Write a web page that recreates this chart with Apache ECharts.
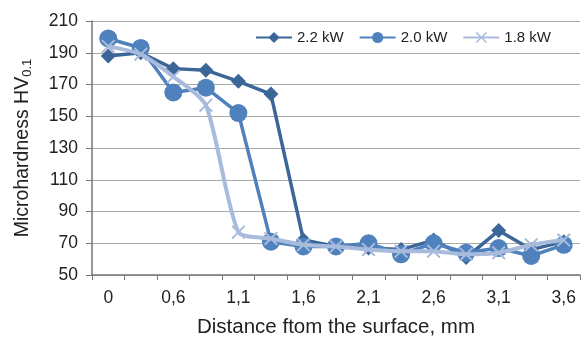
<!DOCTYPE html>
<html>
<head>
<meta charset="utf-8">
<script src="https://cdn.jsdelivr.net/npm/echarts@6/dist/echarts.min.js"></script>
<style>
  html, body { margin: 0; padding: 0; background: #fff; }
  #chart { width: 584px; height: 341px; }
</style>
</head>
<body>
<div id="chart"></div>
<script>
// distance from the surface, mm (only every other one is labelled)
const distances = ['0', '0,35', '0,6', '0,85', '1,1', '1,35', '1,6', '1,85', '2,1', '2,35', '2,6', '2,85', '3,1', '3,35', '3,6'];

const hv22 = [188, 190, 180, 179, 172, 164, 72, 68, 67, 66, 72, 61, 78, 66, 71];
const hv20 = [199, 193, 165, 168, 152, 71, 68, 68, 70, 63, 70, 64, 67, 62, 69];
const hv18 = [194, 189, 175, 157, 77, 73, 69, 68, 66, 65, 65, 63, 64, 69, 72];

const yTicks = { min: 50, max: 210, step: 20 };

const fontFam = '"Liberation Sans", Arial, sans-serif';
const crossPath = 'path://M0,1 L1,0 L5,4 L9,0 L10,1 L6,5 L10,9 L9,10 L5,6 L1,10 L0,9 L4,5 Z';

const chart = echarts.init(document.getElementById('chart'));

chart.setOption({
    animation: false,
    textStyle: { fontFamily: fontFam },
    grid: { left: 92, right: 4, top: 21, bottom: 66, outerBoundsMode: 'none' },
    legend: {
        left: 250,
        top: 25,
        itemWidth: 36,
        itemHeight: 14,
        itemGap: 15,
        textStyle: { fontSize: 15, color: '#222', fontFamily: fontFam },
        data: ['2.2 kW', '2.0 kW', '1.8 kW']
    },
    xAxis: {
        type: 'category',
        data: distances,
        boundaryGap: true,
        name: 'Distance ftom the surface, mm',
        nameLocation: 'middle',
        nameGap: 42,
        nameTextStyle: { fontSize: 20.5, color: '#222' },
        axisLine: { lineStyle: { color: '#777', width: 1.5 } },
        axisTick: { show: true, length: 5, interval: 0, lineStyle: { color: '#777' } },
        axisLabel: { interval: 1, fontSize: 17.5, color: '#222', margin: 14 },
        splitLine: { show: false }
    },
    yAxis: {
        type: 'value',
        min: yTicks.min,
        max: yTicks.max,
        interval: yTicks.step,
        name: '{a|Microhardness HV}{s|0.1}',
        nameLocation: 'middle',
        nameGap: 58,
        nameTextStyle: {
            rich: {
                a: { fontSize: 19.5, color: '#222', fontFamily: fontFam },
                s: { fontSize: 13, color: '#222', fontFamily: fontFam, verticalAlign: 'bottom', padding: [9, 0, 0, 0] }
            }
        },
        axisLine: { show: true, lineStyle: { color: '#777', width: 1.5 } },
        axisTick: { show: true, length: 6, lineStyle: { color: '#777' } },
        axisLabel: { fontSize: 17.5, color: '#222', margin: 14 },
        splitLine: { lineStyle: { color: '#aaa', width: 1.2 } }
    },
    series: [
        {
            name: '2.2 kW',
            type: 'line',
            data: hv22,
            symbol: 'diamond',
            symbolSize: 15,
            color: '#3d6698',
            lineStyle: { width: 3.5, color: '#3d6698' },
            itemStyle: { color: '#3d6698' },
            z: 2
        },
        {
            name: '2.0 kW',
            type: 'line',
            data: hv20,
            symbol: 'circle',
            symbolSize: 18,
            color: '#4f81bd',
            lineStyle: { width: 3.5, color: '#4f81bd' },
            itemStyle: { color: '#4f81bd' },
            z: 3
        },
        {
            name: '1.8 kW',
            type: 'line',
            data: hv18,
            symbol: crossPath,
            symbolSize: 14,
            smooth: 0.22,
            color: '#a8bbdc',
            lineStyle: { width: 4, color: '#a8bbdc' },
            itemStyle: { color: '#a8bbdc' },
            z: 4
        }
    ]
});
</script>
</body>
</html>
